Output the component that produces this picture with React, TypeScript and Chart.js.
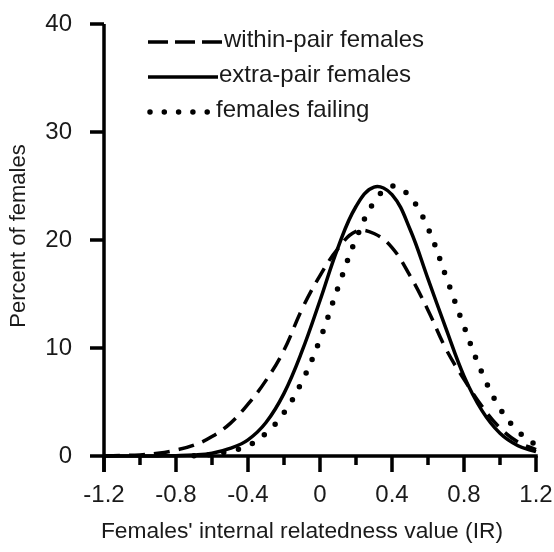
import React, { useEffect, useRef } from 'react';
import { Chart, registerables } from 'chart.js';

Chart.register(...registerables);

// ---- data ----
const X_VALUES = [-1.2, -1.1, -1.0, -0.9, -0.8, -0.7, -0.6, -0.5, -0.4, -0.3, -0.2, -0.1, 0, 0.1, 0.2, 0.3, 0.4, 0.5, 0.6, 0.7, 0.8, 0.9, 1.0, 1.1, 1.2];
const WITHIN_PAIR = [0, 0.05, 0.1, 0.25, 0.55, 1.0, 1.8, 3.0, 4.8, 7.0, 9.8, 13.6, 16.7, 19.2, 20.8, 20.6, 19.3, 16.7, 13.5, 9.9, 7.1, 4.6, 2.6, 1.3, 0.6];
const EXTRA_PAIR = [0, 0, 0, 0.01, 0.03, 0.09, 0.26, 0.7, 1.5, 3.1, 5.8, 9.7, 14.4, 19.3, 23.1, 24.9, 24.2, 21.0, 16.4, 11.8, 7.4, 4.2, 2.1, 0.95, 0.4];
const FAILING = [null, null, null, null, null, 0.03, 0.15, 0.45, 0.95, 2.1, 4.0, 6.9, 10.8, 15.6, 20.1, 23.5, 25.0, 24.0, 21.1, 16.6, 12.0, 7.7, 4.4, 2.3, 1.0];
const SERIES_NAMES = ['within-pair females', 'extra-pair females', 'females failing'];
const Y_TICKS = [0, 10, 20, 30, 40];
const X_TICK_LABELS = [-1.2, -0.8, -0.4, 0, 0.4, 0.8, 1.2];
const X_TITLE = "Females' internal relatedness value (IR)";
const Y_TITLE = 'Percent of females';

const FONT = '"Liberation Sans", Arial, sans-serif';
const INK = '#000';
const TEXT = '#1a1a1a';

const DASHES = [[16, 9], [], [0, 15]];
const LEGEND_DASHES = [[20, 7], [], [0, 14.3]];

const toPoints = (ys: (number | null)[]) => X_VALUES.map((x, i) => ({ x, y: ys[i] }));

const isMajor = (v: number) => X_TICK_LABELS.some((m) => Math.abs(m - v) < 1e-6);

const zeroPadding = (s: any) => {
  s.paddingTop = 0;
  s.paddingBottom = 0;
  s.paddingLeft = 0;
  s.paddingRight = 0;
};

const decorPlugin = {
  id: 'decor',
  afterDraw(chart: any) {
    const { ctx, chartArea: area } = chart;
    const xs = chart.scales.x;
    const ys = chart.scales.y;
    const y0 = ys.getPixelForValue(0);
    const yTop = ys.getPixelForValue(40);
    ctx.save();
    ctx.strokeStyle = INK;
    ctx.lineWidth = 3.5;
    ctx.lineCap = 'butt';
    // axes
    ctx.beginPath();
    ctx.moveTo(area.left, yTop);
    ctx.lineTo(area.left, y0 + 16);
    ctx.moveTo(area.left - 1.75, y0);
    ctx.lineTo(area.right + 1.75, y0);
    ctx.stroke();
    // y ticks
    ctx.beginPath();
    Y_TICKS.forEach((v) => {
      const p = ys.getPixelForValue(v);
      ctx.moveTo(area.left - 14, p);
      ctx.lineTo(area.left, p);
    });
    ctx.stroke();
    // x ticks
    ctx.beginPath();
    xs.ticks.forEach((t: any) => {
      const p = xs.getPixelForValue(t.value);
      const len = isMajor(t.value) ? 16 : 9;
      ctx.moveTo(p, y0);
      ctx.lineTo(p, y0 + len);
    });
    ctx.stroke();

    // legend
    const rows = [
      { y: 42, x0: 148, x1: 222, tx: 224 },
      { y: 77, x0: 148, x1: 218, tx: 219 },
      { y: 112, x0: 150, x1: 208, tx: 216 },
    ];
    rows.forEach((r, i) => {
      ctx.save();
      ctx.lineWidth = i === 2 ? 5.5 : 3.5;
      ctx.lineCap = i === 2 ? 'round' : 'butt';
      ctx.setLineDash(LEGEND_DASHES[i]);
      ctx.beginPath();
      ctx.moveTo(r.x0, r.y);
      ctx.lineTo(r.x1, r.y);
      ctx.stroke();
      ctx.restore();
      ctx.fillStyle = TEXT;
      ctx.font = `24px ${FONT}`;
      ctx.textAlign = 'left';
      ctx.textBaseline = 'middle';
      ctx.fillText(SERIES_NAMES[i], r.tx, r.y - 2);
    });

    // axis titles
    ctx.fillStyle = TEXT;
    ctx.textAlign = 'center';
    ctx.textBaseline = 'middle';
    ctx.font = `22.8px ${FONT}`;
    ctx.fillText(X_TITLE, 302, 532);
    ctx.save();
    ctx.font = `22px ${FONT}`;
    ctx.translate(19, 236);
    ctx.rotate(-Math.PI / 2);
    ctx.fillText(Y_TITLE, 0, 0);
    ctx.restore();
    ctx.restore();
  },
};

export default function App() {
  const ref = useRef<HTMLCanvasElement>(null);
  useEffect(() => {
    if (!ref.current) return;
    const series = [WITHIN_PAIR, EXTRA_PAIR, FAILING];
    const chart = new Chart(ref.current, {
      type: 'line',
      data: {
        datasets: series.map((s, i) => ({
          label: SERIES_NAMES[i],
          data: toPoints(s),
          borderColor: INK,
          borderWidth: i === 2 ? 5.5 : 3.5,
          borderDash: DASHES[i],
          borderCapStyle: i === 2 ? 'round' : 'butt',
          pointRadius: 0,
          tension: 0.4,
          fill: false,
          clip: false,
          spanGaps: false,
        })) as any,
      },
      options: {
        animation: false,
        responsive: false,
        events: [],
        layout: { padding: { top: 24, right: 18, left: 0, bottom: 0 } },
        plugins: { legend: { display: false }, tooltip: { enabled: false }, title: { display: false } },
        scales: {
          x: {
            type: 'linear',
            min: -1.2,
            max: 1.2,
            border: { display: false },
            grid: { display: false, drawTicks: false },
            afterFit: (s: any) => { s.height = 96; zeroPadding(s); },
            ticks: {
              stepSize: 0.2,
              autoSkip: false,
              maxRotation: 0,
              padding: 25,
              color: TEXT,
              font: { family: FONT, size: 24 },
              callback: (v: any) => {
                const n = Number(v);
                if (!isMajor(n)) return '';
                const r = Math.round(n * 10) / 10;
                return r === 0 ? '0' : r.toFixed(1);
              },
            },
          },
          y: {
            type: 'linear',
            min: 0,
            max: 40,
            border: { display: false },
            grid: { display: false, drawTicks: false },
            afterFit: (s: any) => { s.width = 104; zeroPadding(s); },
            ticks: {
              stepSize: 10,
              padding: 32,
              color: TEXT,
              font: { family: FONT, size: 24 },
            },
          },
        },
      },
      plugins: [decorPlugin],
    });
    return () => chart.destroy();
  }, []);
  return (
    <div style={{ position: 'absolute', left: 0, top: 0, width: 554, height: 552, background: '#fff' }}>
      <canvas ref={ref} width={554} height={552} />
    </div>
  );
}
